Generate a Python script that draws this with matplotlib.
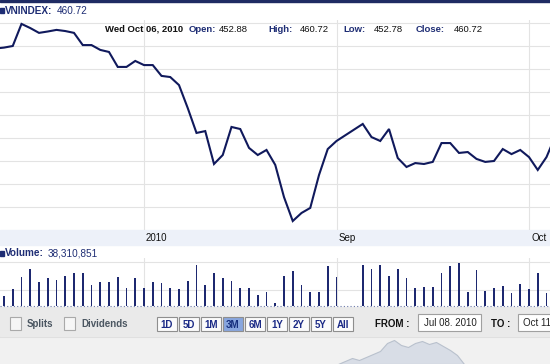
import numpy as np
import matplotlib
matplotlib.use('Agg')
import matplotlib.pyplot as plt
from matplotlib.patches import Rectangle

W, H = 550, 364

# trading calendar: weekdays from Jul 08 to Oct 06 2010, minus the National Day holiday
holidays = np.array(['2010-09-02', '2010-09-03'], dtype='datetime64[D]')
days = np.arange('2010-07-08', '2010-10-07', dtype='datetime64[D]')
weekdays = days[np.is_busday(days)]
trade_days = weekdays[~np.isin(weekdays, holidays)]

close = [498.9, 499.3, 500.0, 509.6, 507.8, 505.7, 506.3, 507.0, 506.5, 505.7,
         500.4, 500.4, 498.3, 497.4, 490.9, 490.9, 493.5, 491.7, 491.7, 487.0,
         486.5, 483.0, 473.0, 462.2, 463.0, 448.7, 452.6, 464.8, 463.9, 455.7,
         452.6, 454.8, 448.3, 434.3, 423.9, 427.4, 429.6, 443.9, 455.2, 458.7,
         466.1, 460.4, 458.7, 463.9, 451.3, 447.4, 449.1, 448.7, 449.6, 457.8,
         457.8, 453.5, 453.9, 450.9, 449.6, 450.0, 455.2, 453.0, 454.8, 451.7,
         446.1, 451.7, 460.72]

# volume in millions of shares
volume_m = [25.0, 15.7, 20.7, 29.3, 35.0, 25.7, 28.6, 27.1, 30.0, 32.1,
            32.1, 23.6, 25.7, 25.7, 29.3, 21.4, 28.6, 21.4, 25.7, 25.0,
            21.4, 20.7, 26.4, 37.9, 23.6, 32.1, 28.6, 26.4, 21.4, 21.4,
            16.4, 18.6, 10.7, 30.0, 33.6, 23.6, 18.6, 18.6, 37.1, 29.3,
            37.9, 35.0, 37.9, 30.0, 35.0, 28.6, 21.4, 22.1, 22.1, 32.1,
            37.1, 39.3, 18.6, 34.3, 19.3, 21.4, 22.9, 17.9, 24.3, 20.7,
            32.1, 17.9, 38.31]

month_ticks = np.array(['2010-08-02', '2010-09-01', '2010-10-01'], dtype='datetime64[D]')
month_labels = ['2010', 'Sep', 'Oct']
range_buttons = ['1D', '5D', '1M', '3M', '6M', '1Y', '2Y', '5Y', 'All']
nav_level = [0, 3, 6, 4, 7, 10, 13, 21, 24, 19, 17, 21, 23, 20, 22, 18, 14, 9, 0]

slot = np.busday_count('2010-07-08', trade_days)
tick_slot = np.busday_count('2010-07-08', month_ticks)

NAVY = '#10195c'
LABEL = '#1e2d74'
plt.rcParams['font.family'] = 'Liberation Sans'

fig = plt.figure(figsize=(W / 100, H / 100), dpi=100)


def box(x0, y0, x1, y1):
    return [x0 / W, 1 - y1 / H, (x1 - x0) / W, (y1 - y0) / H]


# background panels, pixel coordinates
bg = fig.add_axes([0, 0, 1, 1], zorder=0)
bg.set_xlim(0, W)
bg.set_ylim(H, 0)
bg.axis('off')
bg.add_patch(Rectangle((0, 0), W, 2, color='#1f2b63'))
bg.add_patch(Rectangle((0, 230), W, 15, color='#edf1f9'))
bg.add_patch(Rectangle((0, 307), W, 30, color='#eaeaea'))
bg.add_patch(Rectangle((0, 337), W, 27, color='#f1f1f1'))
bg.plot([0, W], [337, 337], color='#e0e0e0', lw=0.8)

xl = ((0 + 4.75) / 8.75, (W + 4.75) / 8.75)

# price panel
ax = fig.add_axes(box(0, 20, W, 230), zorder=1)
ax.set_facecolor('none')
ax.set_xlim(*xl)
ax.set_ylim(420, 511.3)
for v in range(430, 511, 10):
    ax.axhline(v, color='#e3e3e3', lw=0.8, zorder=0)
for t in tick_slot:
    ax.axvline(t, color='#e3e3e3', lw=0.8, zorder=0)
ax.plot(slot, close, color=NAVY, lw=1.5, solid_joinstyle='miter')
ax.axis('off')

# volume panel
vax = fig.add_axes(box(0, 258, W, 306), zorder=1)
vax.set_facecolor('none')
vax.set_xlim(*xl)
vax.set_ylim(8.57, 42.86)
for v in (20, 40):
    vax.axhline(v, color='#e3e3e3', lw=0.8, zorder=0)
for t in tick_slot:
    vax.axvline(t, color='#e3e3e3', lw=0.8, zorder=0)
vax.bar(slot, volume_m, width=0.18, color='#1d2870')
vax.axis('off')

# navigator silhouette
nax = fig.add_axes(box(338, 337, 464, 364), zorder=1)
nax.set_facecolor('none')
nx = np.arange(len(nav_level))
nax.fill_between(nx, nav_level, color='#d8dde6', lw=0.8, edgecolor='#b9c1cd')
nax.set_xlim(0, len(nav_level) - 1)
nax.set_ylim(0, 27)
nax.axis('off')

# foreground: texts and controls
fg = fig.add_axes([0, 0, 1, 1], zorder=5)
fg.set_facecolor('none')
fg.set_xlim(0, W)
fg.set_ylim(H, 0)
fg.axis('off')
renderer = fig.canvas.get_renderer()


def label_value(x, y, name, value, size=7.2):
    t = fg.text(x, y, name, fontsize=size, fontweight='bold', color=LABEL, va='center')
    ext = t.get_window_extent(renderer)
    fg.text(ext.x1 + 4, H - y, value, fontsize=size, color=LABEL, va='center',
            transform=None)


fg.add_patch(Rectangle((0, 8), 4, 5, color=LABEL))
label_value(5, 10.5, 'VNINDEX:', '460.72')

info = [(105, 'Wed Oct 06, 2010', '#111111', 'bold'),
        (189, 'Open:', LABEL, 'bold'), (219, '452.88', '#111111', 'normal'),
        (268, 'High:', LABEL, 'bold'), (300, '460.72', '#111111', 'normal'),
        (343, 'Low:', LABEL, 'bold'), (374, '452.78', '#111111', 'normal'),
        (416, 'Close:', LABEL, 'bold'), (454, '460.72', '#111111', 'normal')]
for x, s, c, w in info:
    fg.text(x, 29, s, fontsize=6.8, color=c, fontweight=w, va='center')

for t, lab in zip(tick_slot, month_labels):
    xp = t * 8.75 - 4.75
    fg.text(xp + 2, 238, lab, fontsize=7, color='#111111', va='center')

fg.add_patch(Rectangle((0, 251), 4, 5, color=LABEL))
label_value(5, 253.5, 'Volume:', '38,310,851')

fg.plot([0, W], [306, 306], color='#6c79aa', lw=0.8, ls=(0, (1, 2)))

for x0, lab in [(10, 'Splits'), (64, 'Dividends')]:
    fg.add_patch(Rectangle((x0, 317), 11, 13, facecolor='#f6f6f6', edgecolor='#a9a9a9', lw=0.8))
    fg.text(x0 + 17, 324, lab, fontsize=7, fontweight='bold', color='#4b5661', va='center')

for i, lab in enumerate(range_buttons):
    x0 = 157 + 22 * i
    on = lab == '3M'
    fg.add_patch(Rectangle((x0, 317), 20, 14, facecolor='#88a6de' if on else '#fbfbfb',
                           edgecolor='#8e8e8e', lw=0.8))
    fg.text(x0 + 10, 324.5, lab, fontsize=7, fontweight='bold',
            color='#17307e' if on else '#1b2a86', ha='center', va='center')

fg.text(375, 324, 'FROM :', fontsize=7, fontweight='bold', color='#111111', va='center')
fg.add_patch(Rectangle((418, 314), 63, 17, facecolor='white', edgecolor='#a0a0a0', lw=0.8))
fg.text(424, 323, 'Jul 08. 2010', fontsize=7, color='#222222', va='center')
fg.text(491, 324, 'TO :', fontsize=7, fontweight='bold', color='#111111', va='center')
fg.add_patch(Rectangle((518, 314), 40, 17, facecolor='white', edgecolor='#a0a0a0', lw=0.8))
fg.text(523, 323, 'Oct 11', fontsize=7, color='#222222', va='center')

fig.savefig('out.png', dpi=100)
